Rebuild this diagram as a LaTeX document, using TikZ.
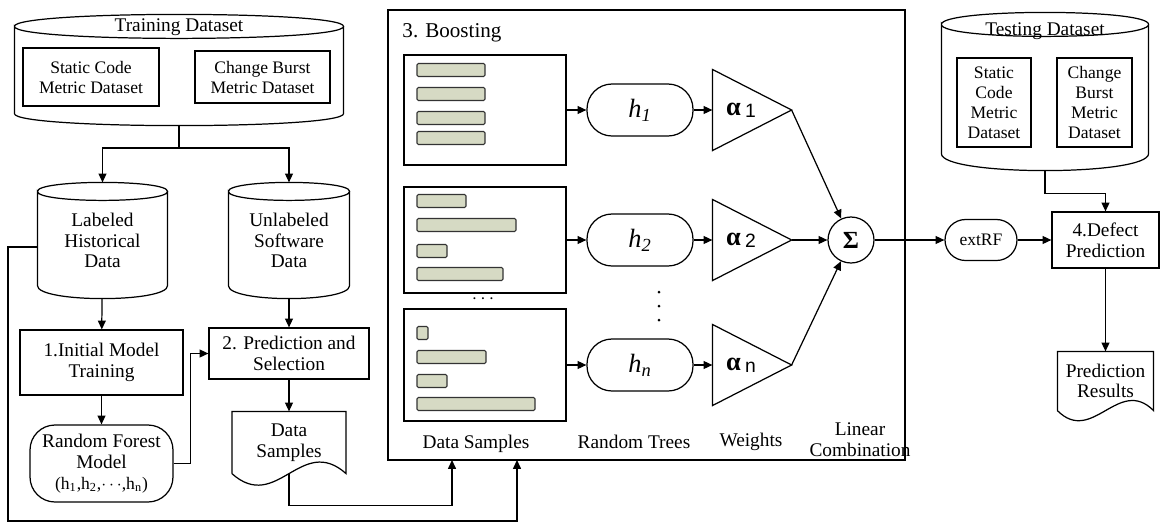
\documentclass[tikz,border=0pt]{standalone}
\usepackage{fontspec}
\setmainfont{Liberation Serif}
\newfontfamily\arialfont{Liberation Sans}
\usetikzlibrary{arrows.meta}
\definecolor{barfill}{RGB}{214,218,196}

% database outline round a node: node, top sag, bottom sag (px)
\newcommand{\dbshape}[3]{%
  \draw ([yshift=-#2*0.02cm]#1.north west) .. controls +(0,-#2*4/3) and +(0,-#2*4/3) .. ([yshift=-#2*0.02cm]#1.north east)
    .. controls +(0,#2*4/3) and +(0,#2*4/3) .. ([yshift=-#2*0.02cm]#1.north west)
    -- ([yshift=#3*0.02cm]#1.south west) .. controls +(0,#3*4/3) and +(0,#3*4/3) .. ([yshift=#3*0.02cm]#1.south east)
    -- ([yshift=-#2*0.02cm]#1.north east);}
% document outline with wavy bottom: node, dx, dy
\newcommand{\docshape}[3]{%
  \draw (#1.south west) -- (#1.north west) -- (#1.north east) -- (#1.south east)
    .. controls +(-#2,-#3) and +(#2,#3) .. (#1.south west);}
% weight label
\newcommand{\wlabel}[1]{\hspace*{-0.44cm}\textbf{α}\,\raisebox{-1pt}{\arialfont\fontsize{11}{11}\selectfont #1}}

\begin{document}
\begin{tikzpicture}[x=0.02cm,y=-0.02cm,>={Triangle[length=5pt,width=4.5pt]},line width=0.7pt,
    every node/.style={font=\fontsize{11}{11.8}\selectfont},
    box/.style={draw,rectangle,align=center,inner sep=1pt},
    inbox/.style={box,font=\fontsize{10}{11.4}\selectfont},
    db/.style={rectangle,align=center,inner sep=0pt},
    doc/.style={rectangle,align=center,inner sep=0pt},
    pill/.style={draw,rectangle,rounded corners=0.5cm,minimum width=2.12cm,minimum height=1.04cm,font=\fontsize{15}{15}\selectfont\itshape},
    wgt/.style={rectangle,minimum width=1.56cm,minimum height=1.6cm,inner sep=0pt,font=\fontsize{15}{15}\selectfont},
    sampbox/.style={draw,rectangle,minimum width=3.24cm},
    bar/.style={draw=black!80,fill=barfill,line width=0.6pt,rounded corners=0.8pt}]
  \useasboundingbox (0,0) rectangle (1161,525);

  % training data
  \node[db,minimum width=6.56cm,minimum height=2.2cm] (train) at (179,70) {};
  \dbshape{train}{12}{12}
  \node (trainlbl) at (179,27) {Training Dataset};
  \node[inbox,minimum width=2.72cm,minimum height=1.16cm] (scm) at (91,77) {Static Code\\Metric Dataset};
  \node[inbox,minimum width=2.7cm,minimum height=1.04cm] (cbm) at (262.5,77) {Change Burst\\Metric Dataset};

  \node[db,minimum width=2.58cm,minimum height=2.3cm] (lab) at (102.5,240.5) {Labeled\\Historical\\Data};
  \dbshape{lab}{9}{13}
  \node[db,minimum width=2.4cm,minimum height=2.3cm] (unl) at (289,240.5) {Unlabeled\\Software\\Data};
  \dbshape{unl}{9}{13}

  \node[box,minimum width=3.26cm,minimum height=1.3cm] (init) at (101.5,362.5) {1.Initial Model\\Training};
  \node[box,minimum width=3.2cm,minimum height=1.02cm] (ps) at (289,353.5) {2. Prediction and\\Selection};
  \node[box,rounded corners=0.5cm,minimum width=2.86cm,minimum height=1.54cm] (rf) at (101.5,463.5)
    {Random Forest\\Model\\{\fontsize{10}{11}\selectfont(h\textsubscript{1},h\textsubscript{2},$\cdots$,h\textsubscript{n})}};
  \node[doc,minimum width=2.26cm,minimum height=1.22cm] (ds) at (289,442.5) {Data\\Samples};
  \docshape{ds}{45}{40}

  % boosting
  \node[draw,minimum width=10.34cm,minimum height=9cm] (boost) at (646.5,235) {};
  \node[anchor=west,font=\fontsize{12}{12}\selectfont] (btitle) at (396,33) {3. Boosting};
  \node[sampbox,minimum height=2.2cm] (b1) at (485,110) {};
  \node[sampbox,minimum height=2.12cm] (b2) at (485,240) {};
  \node[sampbox,minimum height=2.24cm] (bn) at (485,365) {};
  \foreach \y/\w in {70/68,94/68,118/68,138/68,201/49,225/99,251/30,274/86,333/11,357/69,381/30,404/118}
    \draw[bar] (417,\y-6.5) rectangle (417+\w,\y+6.5);
  \node (hdots) at (483,299) {$\cdots$};
  \foreach \y in {292,306,320}
    \fill (659,\y) circle (0.03cm);

  \node[pill] (h1) at (640,110) {h\textsubscript{1}};
  \node[pill] (h2) at (640,240) {h\textsubscript{2}};
  \node[pill] (hn) at (640,365) {h\textsubscript{n}};

  \node[wgt] (w1) at (752,110) {\wlabel{1}};
  \node[wgt] (w2) at (752,240) {\wlabel{2}};
  \node[wgt] (wn) at (752,365) {\wlabel{n}};
  \foreach \w in {w1,w2,wn}
    \draw (\w.north west) -- (\w.east) -- (\w.south west) -- cycle;
  \node[draw,circle,minimum size=0.92cm,inner sep=0pt,font=\fontsize{14}{14}\selectfont\bfseries] (sigma) at (851,240) {Σ};

  \node (lds) at (476,444) {Data Samples};
  \node (lrt) at (634,442) {Random Trees};
  \node (lw) at (751,442) {Weights};
  \node[align=center] (llc) at (860,440) {Linear\\Combination};

  % testing data
  \node[db,minimum width=4.12cm,minimum height=3.14cm] (test) at (1045,91.5) {};
  \dbshape{test}{12}{17}
  \node (testlbl) at (1045,31) {Testing Dataset};
  \node[inbox,minimum width=1.48cm,minimum height=1.78cm] (tscm) at (994,102.5) {Static\\Code\\Metric\\Dataset};
  \node[inbox,minimum width=1.5cm,minimum height=1.78cm] (tcbm) at (1094.5,102.5) {Change\\Burst\\Metric\\Dataset};

  \node[draw,rounded corners=0.41cm,minimum width=1.44cm,minimum height=0.82cm,font=\fontsize{10}{10}\selectfont] (extrf) at (981,240) {extRF};
  \node[box,minimum width=2.14cm,minimum height=1.12cm] (dp) at (1105.5,240) {4.Defect\\Prediction};
  \node[doc,minimum width=1.9cm,minimum height=1.16cm] (pr) at (1105.5,381) {Prediction\\Results};
  \docshape{pr}{35}{35}

  % connectors
  \coordinate (split) at (179,148);
  \coordinate (in1) at (452,460);
  \coordinate (in2) at (517,460);
  \draw (train.south) -- (split);
  \draw[->] (split) -| (lab);
  \draw[->] (split) -| (unl);
  \draw[->] (lab) -- (init);
  \draw[->] (unl) -- (ps);
  \draw[->] (init) -- (rf);
  \draw[->] (rf.east) -- ++(17,0) |- (ps);
  \draw[->] (ps) -- (ds);
  \draw[->] (ds.south) -- ++(0,32) -| (in1);
  \draw[->] ([yshift=-0.13cm]lab.west) -| (8,521) -| (in2);
  \foreach \i in {1,2,n} {
    \draw[->] (b\i) -- (h\i);
    \draw[->] (h\i) -- (w\i);
  }
  \draw[->] (w1.east) -- (sigma);
  \draw[->] (w2) -- (sigma);
  \draw[->] (wn.east) -- (sigma);
  \draw[->] (sigma) -- (extrf);
  \draw[->] (extrf) -- (dp);
  \draw[->] (test.south) -- ++(0,23) -| (dp);
  \draw[->] (dp) -- (pr);
\end{tikzpicture}
\end{document}
